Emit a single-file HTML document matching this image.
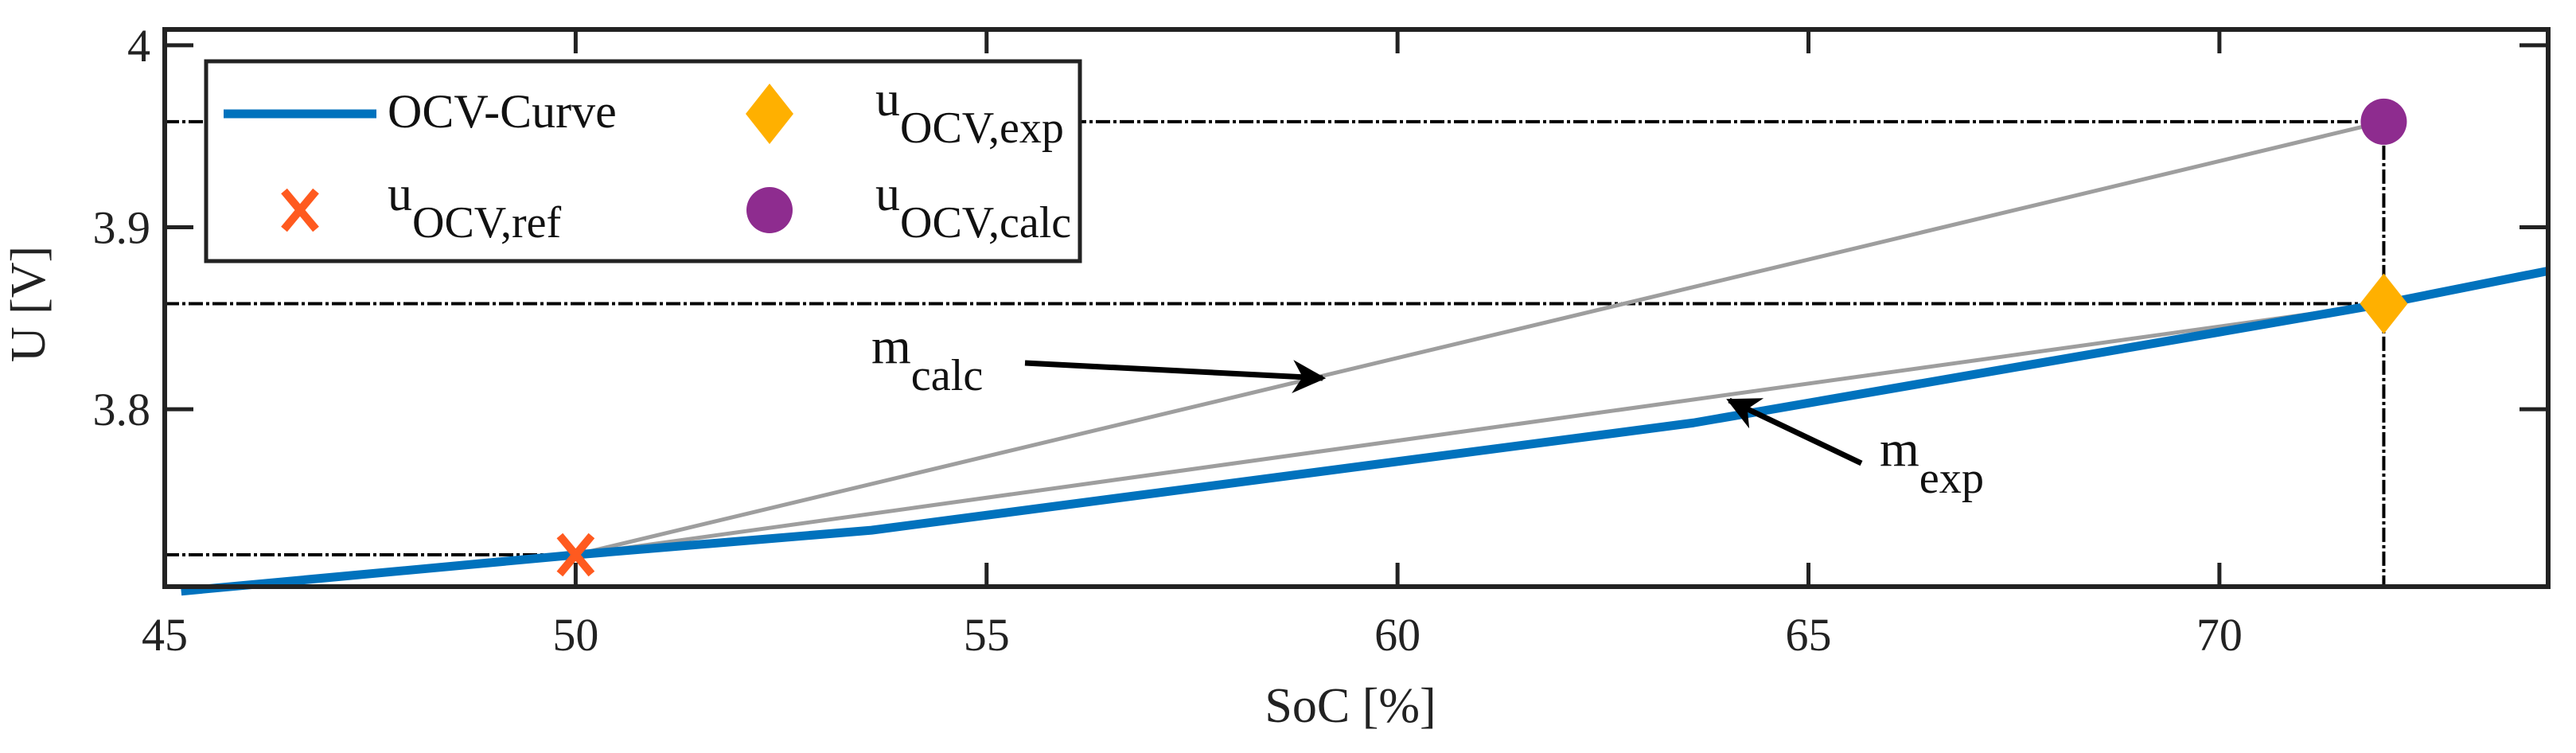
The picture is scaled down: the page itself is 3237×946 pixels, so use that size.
<!DOCTYPE html>
<html><head><meta charset="utf-8"><style>
html,body{margin:0;padding:0;background:#fff;}
svg{display:block;font-family:"Liberation Serif",serif;}
</style></head><body>
<svg id="chart" width="3237" height="946" viewBox="0 0 3237 946" xmlns="http://www.w3.org/2000/svg">
<defs>
<marker id="ah" viewBox="0 0 10 10" refX="9" refY="5" markerWidth="7" markerHeight="6" orient="auto" markerUnits="strokeWidth"><path d="M0,0 L10,5 L0,10 L3,5 z" fill="#000"/></marker>
</defs>
<g id="plot"></g>
</svg>
<script>
const xTicks=[45,50,55,60,65,70];
const yTicks=[3.8,3.9,4];
const yTickLabels=["3.8","3.9","4"];
const ocvSoc=[45.2,50,53.6,63.6,72,74];
const ocvU=[3.7,3.72,3.7335,3.7925,3.858,3.876];
const refPoint=[50,3.72];
const expPoint=[72,3.858];
const calcPoint=[72,3.958];
const X0=207,X1=3202,Y0=737,Y1=37;
const xMin=45,xMax=74,yMin=3.7025,yMax=4.0087;
const sx=v=>X0+(v-xMin)/(xMax-xMin)*(X1-X0);
const sy=v=>Y0-(v-yMin)/(yMax-yMin)*(Y0-Y1);
const NS="http://www.w3.org/2000/svg";
const g=document.getElementById('plot');
function el(tag,attrs,parent){const e=document.createElementNS(NS,tag);for(const k in attrs)e.setAttribute(k,attrs[k]);(parent||g).appendChild(e);return e;}

for(const p of [calcPoint,expPoint,refPoint]){
  const h=el('line',{x1:X0,x2:sx(p[0]),y1:sy(p[1]),y2:sy(p[1]),stroke:'#000','stroke-width':4,'stroke-dasharray':'18,4,4,4'});
  
  
}
const v=el('line',{x1:sx(calcPoint[0]),x2:sx(calcPoint[0]),y1:sy(calcPoint[1]),y2:Y0,stroke:'#000','stroke-width':4,'stroke-dasharray':'18,4,4,4'});



for(const p of [calcPoint,expPoint]){
  const l=el('line',{x1:sx(refPoint[0]),y1:sy(refPoint[1]),x2:sx(p[0]),y2:sy(p[1]),stroke:'#9e9e9e','stroke-width':5});
  
  
}
const pts=ocvSoc.map((s,i)=>sx(s)+','+sy(ocvU[i])).join(' ');
const curve=el('polyline',{points:pts,fill:'none',stroke:'#0072BD','stroke-width':11,'stroke-linejoin':'round'});



function xMark(cx,cy,parent){const gg=el('g',{},parent);el('path',{d:`M${cx-20},${cy-24}L${cx+20},${cy+24}M${cx-20},${cy+24}L${cx+20},${cy-24}`,stroke:'#FF5A1F','stroke-width':10},gg);return gg;}
function diamond(cx,cy,parent){return el('polygon',{points:`${cx},${cy-38} ${cx+30},${cy} ${cx},${cy+38} ${cx-30},${cy}`,fill:'#FFB000'},parent);}
function dot(cx,cy,parent){return el('ellipse',{cx:cx,cy:cy,rx:29,ry:29,fill:'#8E2C8F'},parent);}
let m=xMark(sx(refPoint[0]),sy(refPoint[1]));


m=diamond(sx(expPoint[0]),sy(expPoint[1]));


m=dot(sx(calcPoint[0]),sy(calcPoint[1]));



const box=el('rect',{x:X0,y:Y1,width:X1-X0,height:Y0-Y1,fill:'none',stroke:'#222','stroke-width':6});


xTicks.forEach(t=>{
  const x=sx(t);
  el('line',{x1:x,x2:x,y1:Y0,y2:Y0-30,stroke:'#222','stroke-width':5});
  el('line',{x1:x,x2:x,y1:Y1,y2:Y1+30,stroke:'#222','stroke-width':5});
  const tx=el('text',{x:x,y:817,'font-size':58,'text-anchor':'middle',fill:'#222'});
  tx.textContent=t;
  
  
});
yTicks.forEach((t,i)=>{
  const y=sy(t);
  el('line',{x1:X0,x2:X0+36,y1:y,y2:y,stroke:'#222','stroke-width':5});
  el('line',{x1:X1,x2:X1-36,y1:y,y2:y,stroke:'#222','stroke-width':5});
  const tx=el('text',{x:189,y:y+20,'font-size':58,'text-anchor':'end',fill:'#222'});
  tx.textContent=yTickLabels[i];
  
  
});
let t=el('text',{x:1697,y:907,'font-size':62,'text-anchor':'middle',fill:'#222'});
t.textContent='SoC [%]';


t=el('text',{x:0,y:0,'font-size':62,'text-anchor':'middle',fill:'#222',transform:'translate(56,382) rotate(-90)'});
t.textContent='U [V]';



function sub(x,y,main,s,name,fs){const tt=el('text',{x:x,y:y,'font-size':fs||64,fill:'#111'});const a=el('tspan',{},tt);a.textContent=main;const b=el('tspan',{dy:34,'font-size':(fs||64)*0.88},tt);b.textContent=s;return tt;}
sub(1095,456,'m','calc','m-calc-label');
sub(2362,585,'m','exp','m-exp-label');
let a=el('line',{x1:1288,y1:456,x2:1662,y2:475,stroke:'#000','stroke-width':7,'marker-end':'url(#ah)'});


a=el('line',{x1:2339,y1:582,x2:2173,y2:503,stroke:'#000','stroke-width':7,'marker-end':'url(#ah)'});



const lg=el('g',{});


el('rect',{x:259,y:77,width:1098,height:251,fill:'#fff',stroke:'#222','stroke-width':5},lg);
el('line',{x1:281,x2:473,y1:143,y2:143,stroke:'#0072BD','stroke-width':11},lg);
let lt=el('text',{x:487,y:160,'font-size':60,fill:'#111'},lg);lt.textContent='OCV-Curve';


diamond(967,143,lg);
xMark(377,264,lg);
dot(967,264,lg);
function lsub(x,y,s,name){const tt=el('text',{x:x,y:y,'font-size':62,fill:'#111'},lg);const p=el('tspan',{},tt);p.textContent='u';const q=el('tspan',{dy:34,'font-size':56},tt);q.textContent=s;}
lsub(1100,145,'OCV,exp','legend-u-exp');
lsub(487,264,'OCV,ref','legend-u-ref');
lsub(1100,264,'OCV,calc','legend-u-calc');
</script>
</body></html>
